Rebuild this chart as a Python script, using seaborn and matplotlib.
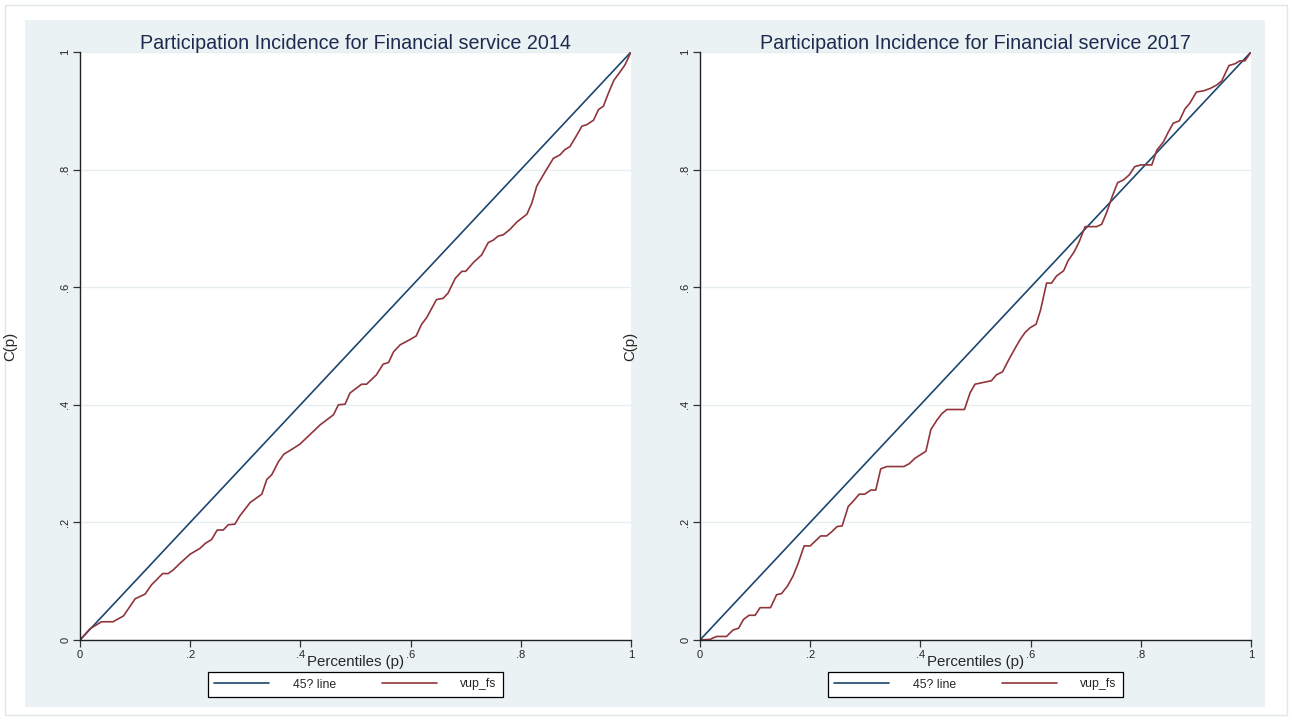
import numpy as np
import pandas as pd
import matplotlib
matplotlib.use("Agg")
import matplotlib.pyplot as plt
from matplotlib.patches import Rectangle
import seaborn as sns

# ---- data ----
titles = ["Participation Incidence for Financial service 2014",
          "Participation Incidence for Financial service 2017"]
legend_labels = ["45? line", "vup_fs"]
tick_vals = [0, 0.2, 0.4, 0.6, 0.8, 1.0]
tick_labels = ["0", ".2", ".4", ".6", ".8", "1"]

diag_p = [0.0, 1.0]
diag_c = [0.0, 1.0]

p2014 = [0.0, 0.018, 0.039, 0.06, 0.079, 0.1, 0.118, 0.13, 0.15, 0.16, 0.169, 0.181, 0.2,
         0.218, 0.227, 0.239, 0.249, 0.26, 0.269, 0.281, 0.29, 0.309, 0.33, 0.339, 0.348,
         0.36, 0.37, 0.384, 0.399, 0.417, 0.436, 0.46, 0.469, 0.481, 0.49, 0.511, 0.52,
         0.538, 0.55, 0.56, 0.569, 0.581, 0.599, 0.61, 0.62, 0.629, 0.647, 0.659, 0.668,
         0.681, 0.693, 0.7, 0.714, 0.729, 0.741, 0.75, 0.759, 0.768, 0.78, 0.793, 0.811,
         0.82, 0.829, 0.844, 0.859, 0.871, 0.88, 0.889, 0.9, 0.911, 0.919, 0.932, 0.941,
         0.95, 0.959, 0.969, 0.98, 0.989, 1.0]
c2014 = [0.0, 0.019, 0.031, 0.031, 0.041, 0.07, 0.078, 0.094, 0.113, 0.113, 0.119, 0.13, 0.146,
         0.156, 0.164, 0.171, 0.187, 0.187, 0.196, 0.197, 0.211, 0.234, 0.248, 0.273, 0.281,
         0.303, 0.316, 0.324, 0.333, 0.349, 0.366, 0.383, 0.4, 0.401, 0.42, 0.435, 0.435,
         0.451, 0.469, 0.472, 0.49, 0.502, 0.511, 0.517, 0.537, 0.548, 0.579, 0.581, 0.59,
         0.615, 0.627, 0.627, 0.642, 0.655, 0.676, 0.68, 0.687, 0.689, 0.698, 0.711, 0.724,
         0.743, 0.772, 0.796, 0.819, 0.825, 0.834, 0.839, 0.856, 0.874, 0.876, 0.884, 0.902,
         0.908, 0.93, 0.952, 0.966, 0.978, 1.0]

p2017 = [0.0, 0.018, 0.03, 0.048, 0.06, 0.07, 0.079, 0.089, 0.1, 0.109, 0.128, 0.139, 0.148,
         0.159, 0.169, 0.178, 0.189, 0.2, 0.209, 0.219, 0.23, 0.239, 0.249, 0.258, 0.269,
         0.278, 0.289, 0.299, 0.31, 0.319, 0.328, 0.339, 0.37, 0.38, 0.39, 0.4, 0.41, 0.419,
         0.43, 0.439, 0.448, 0.48, 0.49, 0.499, 0.514, 0.529, 0.538, 0.549, 0.56, 0.57,
         0.581, 0.59, 0.599, 0.61, 0.618, 0.629, 0.638, 0.647, 0.66, 0.668, 0.679, 0.688,
         0.699, 0.72, 0.729, 0.738, 0.748, 0.758, 0.768, 0.779, 0.789, 0.8, 0.82, 0.829,
         0.841, 0.85, 0.859, 0.87, 0.88, 0.889, 0.901, 0.914, 0.926, 0.938, 0.947, 0.96,
         0.971, 0.98, 0.989, 1.0]
c2017 = [0.0, 0.001, 0.006, 0.006, 0.017, 0.02, 0.035, 0.042, 0.042, 0.055, 0.055, 0.077, 0.079,
         0.092, 0.109, 0.13, 0.16, 0.16, 0.168, 0.177, 0.177, 0.184, 0.193, 0.194, 0.227,
         0.236, 0.248, 0.248, 0.255, 0.255, 0.291, 0.295, 0.295, 0.3, 0.309, 0.315, 0.321, 0.358,
         0.374, 0.385, 0.392, 0.392, 0.42, 0.435, 0.438, 0.441, 0.451, 0.456, 0.476, 0.493,
         0.511, 0.523, 0.531, 0.537, 0.561, 0.607, 0.607, 0.619, 0.628, 0.645, 0.66, 0.677,
         0.703, 0.703, 0.707, 0.727, 0.754, 0.778, 0.782, 0.791, 0.805, 0.808, 0.808, 0.833,
         0.847, 0.864, 0.879, 0.883, 0.903, 0.913, 0.932, 0.934, 0.938, 0.944, 0.951, 0.977,
         0.98, 0.985, 0.985, 1.0]

# ---- style ----
sns.set_style("white")
plt.rcParams['font.family'] = ['Liberation Sans', 'DejaVu Sans']

BLUE = "#1a476f"
RED = "#90353b"
BG = "#eaf2f3"
GRID = "#e6eef0"
TITLE_C = "#1e2b50"

W, H = 1292, 721
fig = plt.figure(figsize=(W / 100, H / 100), dpi=100)
fig.patch.set_facecolor("white")

# outer frame and graph region background (behind axes)
fig.patches.append(Rectangle((5 / W, 6 / H), 1282 / W, 710 / H, transform=fig.transFigure,
                             facecolor="white", edgecolor="#dfe7ea", lw=1, zorder=-2))
fig.patches.append(Rectangle((25 / W, 14 / H), 1240 / W, 687 / H, transform=fig.transFigure,
                             facecolor=BG, edgecolor="none", zorder=-1))

ax_w, ax_h = 551, 588
bottom = (H - 640) / H
lefts = [80, 700]
datasets = [(p2014, c2014), (p2017, c2017)]

for i, (lx, (pp, cc)) in enumerate(zip(lefts, datasets)):
    ax = fig.add_axes([lx / W, bottom, ax_w / W, ax_h / H])
    ax.set_zorder(1)
    ax.set_facecolor("white")
    df_d = pd.DataFrame({"p": diag_p, "c": diag_c})
    df_v = pd.DataFrame({"p": pp, "c": cc})
    sns.lineplot(data=df_d, x="p", y="c", ax=ax, color=BLUE, lw=1.2, label=legend_labels[0])
    sns.lineplot(data=df_v, x="p", y="c", ax=ax, color=RED, lw=1.2, label=legend_labels[1])
    ax.set_xlim(0, 1)
    ax.set_ylim(0, 1)
    ax.set_xticks(tick_vals)
    ax.set_xticklabels(tick_labels, fontsize=8)
    ax.set_yticks(tick_vals)
    ax.set_yticklabels(tick_labels, fontsize=8, rotation=90, va="center")
    ax.tick_params(axis="both", direction="out", length=5, width=0.9, color="#333333",
                   bottom=True, left=True, pad=2)
    ax.yaxis.grid(True, color=GRID, lw=1)
    ax.xaxis.grid(False)
    ax.set_axisbelow(True)
    for s in ["top", "right"]:
        ax.spines[s].set_visible(False)
    for s in ["left", "bottom"]:
        ax.spines[s].set_color("#222222")
        ax.spines[s].set_linewidth(1.0)
    ax.set_title(titles[i], fontsize=14.2, color=TITLE_C, pad=2)
    ax.set_xlabel("Percentiles (p)", fontsize=10.8)
    ax.set_ylabel("C(p)", fontsize=10.8)
    ax.xaxis.set_label_coords(0.5, -(662 - 640) / ax_h)
    ax.xaxis.label.set_va("center")
    ax.yaxis.set_label_coords(-70 / ax_w, 0.5)
    ax.yaxis.label.set_va("center")
    leg = ax.legend(loc="center", bbox_to_anchor=(0.5, -(684.5 - 640) / ax_h), ncol=2,
                    frameon=True, fancybox=False, fontsize=8.8, handlelength=4.5,
                    handletextpad=1.9, columnspacing=3.8, borderpad=0.5)
    leg.get_frame().set_edgecolor("black")
    leg.get_frame().set_linewidth(0.9)
    leg.get_frame().set_facecolor("white")
    leg.get_frame().set_alpha(1)

fig.savefig("out.png", dpi=100, facecolor="white")
